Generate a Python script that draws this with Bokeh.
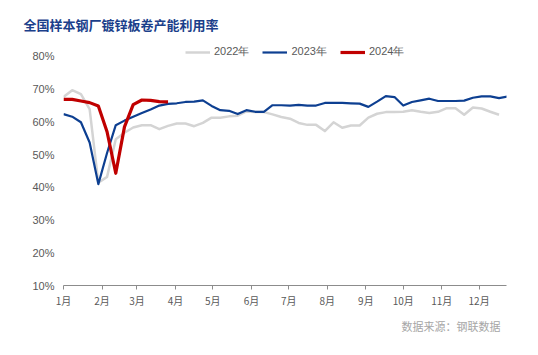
from bokeh.plotting import figure
from bokeh.models import FixedTicker, Legend, LegendItem, Range1d, Title
from bokeh.embed import file_html
from bokeh.resources import INLINE

title_text = "全国样本钢厂镀锌板卷产能利用率"
source_text = "数据来源：钢联数据"
series_names = ["2022年", "2023年", "2024年"]

month_labels = ["1月", "2月", "3月", "4月", "5月", "6月", "7月", "8月", "9月", "10月", "11月", "12月"]
month_days = [0, 31, 59, 90, 120, 151, 181, 212, 243, 273, 304, 334]

y_ticks = [10, 20, 30, 40, 50, 60, 70, 80]
y_labels = ["10%", "20%", "30%", "40%", "50%", "60%", "70%", "80%"]

v2022 = [67.6, 69.7, 68.5, 63.9, 41.4, 43.2, 54.7, 56.7, 58.3, 59.0, 59.0, 57.8, 58.8,
         59.5, 59.5, 58.7, 59.7, 61.3, 61.3, 61.7, 61.9, 63.2, 63.0, 63.0, 62.3, 61.5,
         61.0, 59.7, 59.1, 59.1, 57.2, 59.9, 58.2, 58.9, 58.9, 61.3, 62.5, 63.0, 63.0,
         63.1, 63.6, 63.1, 62.7, 63.1, 64.2, 64.2, 62.2, 64.4, 64.1, 63.1, 62.2]
v2023 = [62.4, 61.6, 59.9, 53.7, 41.0, 50.5, 59.0, 60.4, 61.6, 62.7, 63.8, 65.0, 65.5,
         65.7, 66.1, 66.2, 66.6, 64.9, 63.6, 63.4, 62.4, 63.6, 63.1, 63.1, 65.1, 65.1,
         65.0, 65.2, 65.0, 65.0, 65.8, 65.8, 65.8, 65.7, 65.6, 64.6, 66.2, 67.9, 67.6,
         65.0, 66.1, 66.6, 67.1, 66.4, 66.4, 66.4, 66.5, 67.4, 67.8, 67.8, 67.3, 67.8]
v2024 = [66.9, 66.9, 66.4, 65.9, 64.9, 57.0, 44.3, 58.5, 65.3, 66.7, 66.6, 66.2, 66.1]

colors = ["#D4D4D4", "#0D3F91", "#C00000"]
widths = [2.5, 2.2, 3.2]

def week_days(vals):
    return [i * 7 for i in range(len(vals))]

# frame spans screen y 40..285; 80% sits at y=56, 10% at y=285
p = figure(width=538, height=355, output_backend="svg", toolbar_location=None,
           x_range=Range1d(0, 356), y_range=Range1d(10, 84.89),
           min_border_left=63, min_border_right=32, min_border_top=40, min_border_bottom=70)
p.outline_line_color = None
p.xgrid.grid_line_color = None
p.ygrid.grid_line_color = None
p.background_fill_color = "white"
p.border_fill_color = "white"

renderers = []
for vals, c, w in zip([v2022, v2023, v2024], colors, widths):
    r = p.line(week_days(vals), vals, line_color=c, line_width=w, line_join="round")
    renderers.append(r)

# axes
p.xaxis.ticker = FixedTicker(ticks=month_days)
p.xaxis.major_label_overrides = {d: l for d, l in zip(month_days, month_labels)}
p.xaxis.axis_line_color = "#8C8C8C"
p.xaxis.major_tick_line_color = "#8C8C8C"
p.xaxis.major_tick_in = 0
p.xaxis.major_tick_out = 4
p.xaxis.minor_tick_line_color = None
p.xaxis.major_label_text_font = "Noto Sans CJK SC"
p.xaxis.major_label_text_font_size = "10px"
p.xaxis.major_label_text_color = "#595959"
p.xaxis.major_label_standoff = 3

p.yaxis.ticker = FixedTicker(ticks=y_ticks)
p.yaxis.major_label_overrides = {t: l for t, l in zip(y_ticks, y_labels)}
p.yaxis.axis_line_color = None
p.yaxis.major_tick_line_color = None
p.yaxis.minor_tick_line_color = None
p.yaxis.major_tick_in = 0
p.yaxis.major_tick_out = 0
p.yaxis.major_label_standoff = 9
p.yaxis.major_label_text_font = "Liberation Sans"
p.yaxis.major_label_text_font_size = "11px"
p.yaxis.major_label_text_color = "#595959"

legend = Legend(items=[LegendItem(label=n, renderers=[r]) for n, r in zip(series_names, renderers)],
                orientation="horizontal", location=(122, 226),
                glyph_width=25, glyph_height=12, label_standoff=4, spacing=13,
                padding=0, margin=0, border_line_alpha=0, background_fill_alpha=0,
                label_text_font="Liberation Sans", label_text_font_size="11px",
                label_text_color="#595959", label_height=12)
p.add_layout(legend, "center")

p.add_layout(Title(text=title_text, align="left", offset=-40, standoff=14,
                   text_font="Noto Sans CJK SC", text_font_style="bold",
                   text_font_size="13px", text_color="#1B3F8B"), "above")

p.add_layout(Title(text=source_text, align="right", offset=6, standoff=11,
                   text_font="Noto Sans CJK SC", text_font_style="normal",
                   text_font_size="11px", text_color="#A6A6A6"), "below")

open("out.html", "w").write(file_html(p, INLINE))
